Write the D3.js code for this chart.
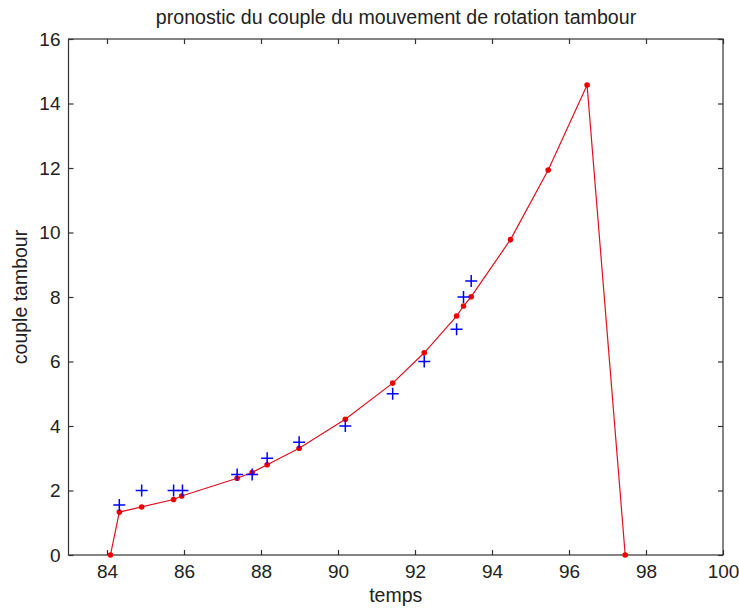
<!DOCTYPE html>
<html><head><meta charset="utf-8">
<script src="https://cdn.jsdelivr.net/npm/d3@7"></script>
<style>body{margin:0;background:#fff}svg{display:block}text{font-family:"Liberation Sans",Arial,sans-serif;fill:#222}</style>
</head><body><svg id="c" width="739" height="610"></svg>
<script>
const title = "pronostic du couple du mouvement de rotation tambour";
const xLabel = "temps";
const yLabel = "couple tambour";
const xTicks = [84,86,88,90,92,94,96,98,100];
const yTicks = [0,2,4,6,8,10,12,14,16];
// red prediction curve
const predX = [84.09,84.32,84.9,85.73,85.94,87.38,87.77,88.16,88.99,90.19,91.42,92.24,93.08,93.26,93.46,94.48,95.46,96.47,97.46];
const predY = [0,1.33,1.49,1.72,1.83,2.38,2.56,2.8,3.31,4.21,5.33,6.27,7.41,7.72,8.01,9.78,11.94,14.57,0];
// blue measured points
const measX = [84.32,84.9,85.73,85.96,87.38,87.77,88.16,88.99,90.19,91.42,92.24,93.08,93.26,93.46];
const measY = [1.55,2,2,2,2.5,2.5,3,3.5,4,5,6,7,8,8.5];

const svg = d3.select("#c");
const L=68.5, R=723, T=39, B=555;
const x = d3.scaleLinear().domain([83,100]).range([L,R]);
const y = d3.scaleLinear().domain([0,16]).range([B,T]);
const axisColor="#333";
const tl=5;

// frame
svg.append("rect").attr("x",L).attr("y",T).attr("width",R-L).attr("height",B-T)
  .attr("fill","none").attr("stroke",axisColor).attr("stroke-width",1.2);

const fs=19;
function styleAxis(g){g.select(".domain").remove();g.selectAll("line").attr("stroke",axisColor).attr("stroke-width",1.2);g.selectAll("text").attr("font-size",fs).attr("fill","#222").style("font-family","'Liberation Sans',Arial,sans-serif");}
svg.append("g").attr("transform",`translate(0,${B})`)
  .call(d3.axisBottom(x).tickValues(xTicks).tickFormat(d3.format("d")).tickSize(-tl).tickPadding(10))
  .call(styleAxis);
svg.append("g").attr("transform",`translate(0,${T})`)
  .call(d3.axisTop(x).tickValues(xTicks).tickFormat("").tickSize(-tl))
  .call(styleAxis);
svg.append("g").attr("transform",`translate(${L},0)`)
  .call(d3.axisLeft(y).tickValues(yTicks).tickFormat(d3.format("d")).tickSize(-tl).tickPadding(8))
  .call(styleAxis);
svg.append("g").attr("transform",`translate(${R},0)`)
  .call(d3.axisRight(y).tickValues(yTicks).tickFormat("").tickSize(-tl))
  .call(styleAxis);

// red line
const pred = predX.map((v,i)=>[v,predY[i]]);
svg.append("path").datum(pred)
  .attr("d",d3.line().x(d=>x(d[0])).y(d=>y(d[1])))
  .attr("fill","none").attr("stroke","#e01020").attr("stroke-width",1.2);
svg.selectAll(".rp").data(pred).join("circle")
  .attr("cx",d=>x(d[0])).attr("cy",d=>y(d[1])).attr("r",2.8).attr("fill","#ee0000");

// blue plus
const meas = measX.map((v,i)=>[v,measY[i]]);
const s=6;
svg.selectAll(".bp").data(meas).join("path")
  .attr("d",d=>{const cx=x(d[0]),cy=y(d[1]);return `M${cx-s},${cy}H${cx+s}M${cx},${cy-s}V${cy+s}`;})
  .attr("stroke","#0000ff").attr("stroke-width",1.5).attr("fill","none");

svg.append("text").attr("x",396).attr("y",24).attr("text-anchor","middle").attr("font-size",19.6).text(title);
svg.append("text").attr("x",(L+R)/2).attr("y",602).attr("text-anchor","middle").attr("font-size",19.5).text(xLabel);
svg.append("text").attr("transform",`translate(27,${(T+B)/2}) rotate(-90)`).attr("text-anchor","middle").attr("font-size",19.5).text(yLabel);
</script></body></html>
